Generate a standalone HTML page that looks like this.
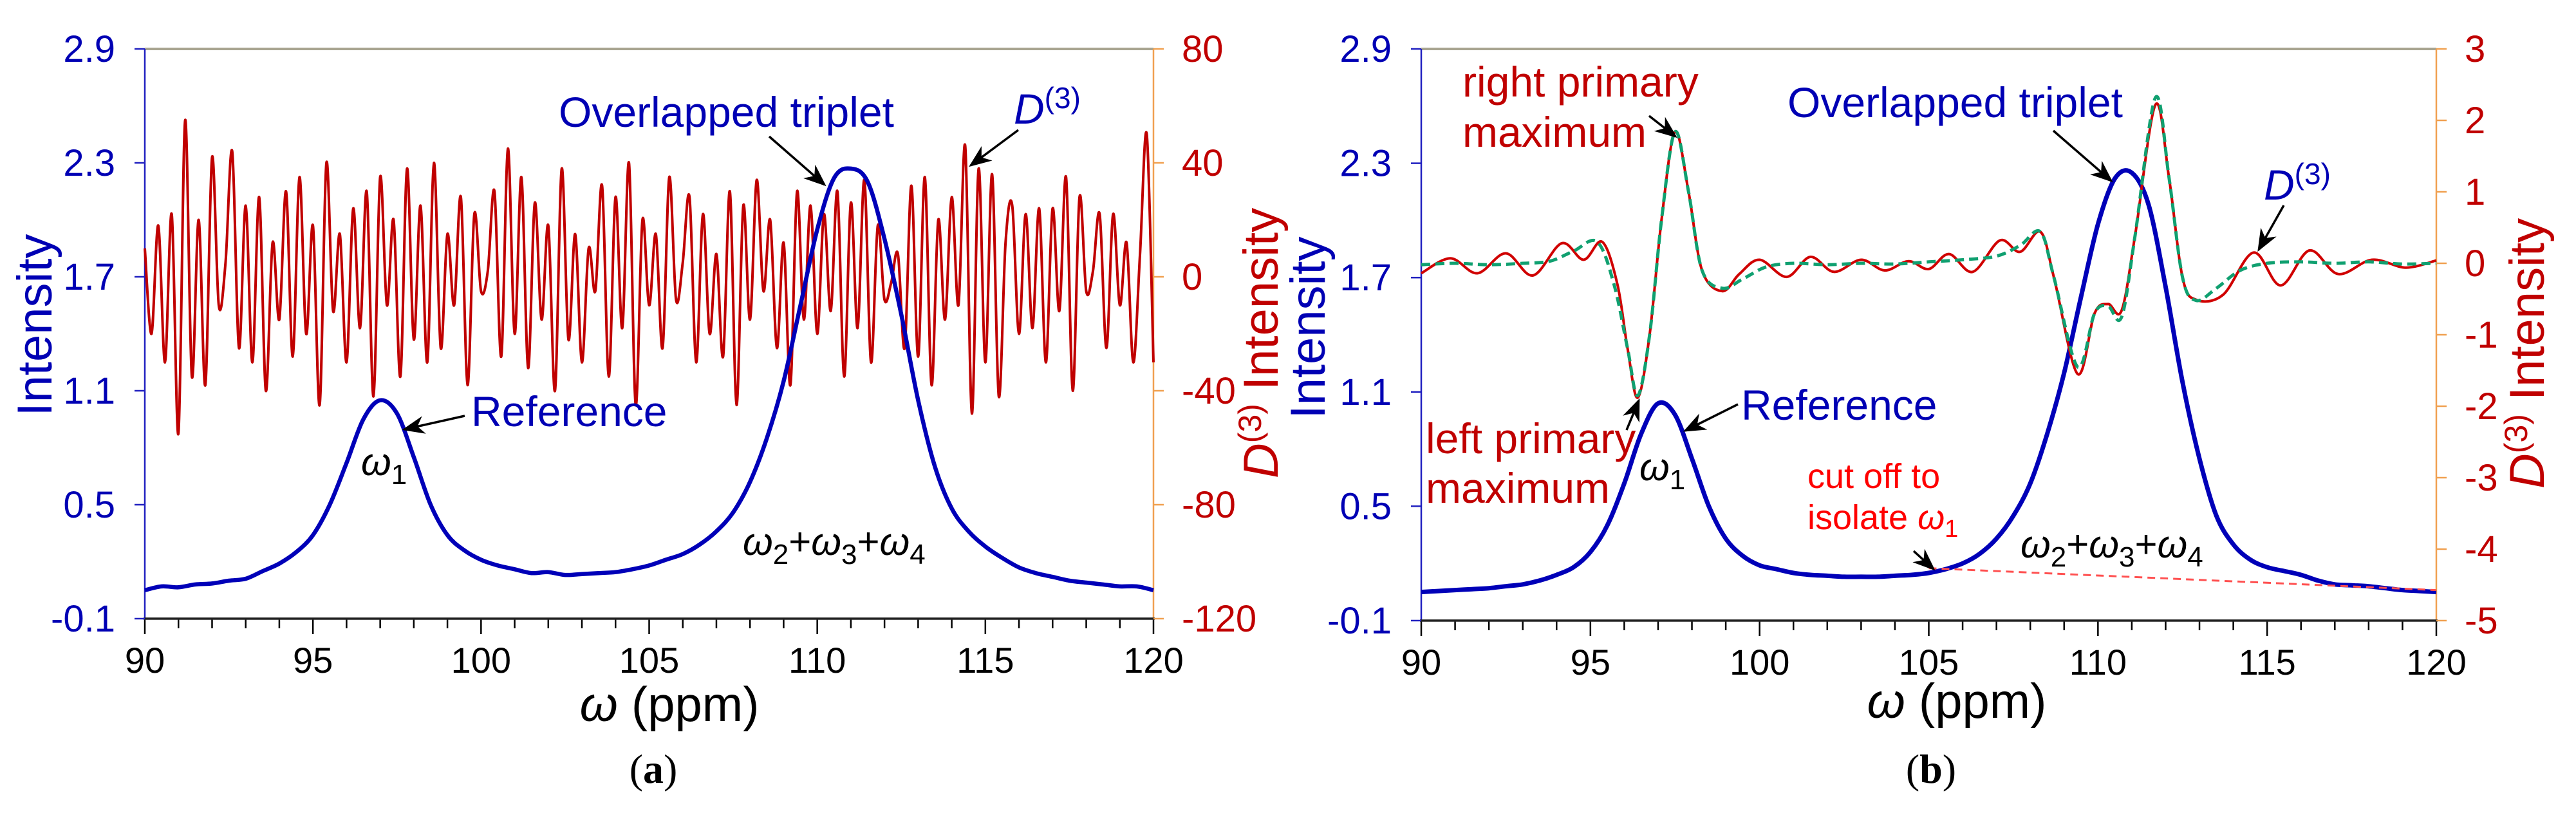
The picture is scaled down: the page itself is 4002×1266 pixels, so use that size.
<!DOCTYPE html>
<html><head><meta charset="utf-8">
<style>
html,body{margin:0;padding:0;background:#fff;}
svg{display:block;font-family:"Liberation Sans",Arial,sans-serif;}
</style></head>
<body>
<svg id="fig" width="4002" height="1266" viewBox="0 0 4002 1266" xmlns="http://www.w3.org/2000/svg">
<defs>
<marker id="ah" markerWidth="10" markerHeight="8" refX="9" refY="4" orient="auto" markerUnits="strokeWidth">
<path d="M0,0 L10,4 L0,8 L3,4 Z" fill="#000"/></marker>
</defs>
<g id="pa"></g>
<g id="pb"></g>
</svg>
<script>
// ---------- DATA ----------
const xTicks = [90,95,100,105,110,115,120];
const leftTicks = [2.9,2.3,1.7,1.1,0.5,-0.1];
const rightTicksA = [80,40,0,-40,-80,-120];
const rightTicksB = [3,2,1,0,-1,-2,-3,-4,-5];

// panel a blue intensity, sampled 90..120 every 0.5 ppm
const blueAStart = 90, blueAStep = 0.5;
const blueA = [0.05,0.07,0.065,0.08,0.085,0.10,0.11,0.15,0.19,0.25,0.34,0.50,0.72,0.95,1.05,0.98,0.75,0.50,0.34,0.26,0.21,0.18,0.16,0.14,0.145,0.13,0.135,0.14,0.145,0.16,0.18,0.21,0.24,0.29,0.36,0.46,0.62,0.85,1.15,1.55,1.95,2.22,2.27,2.2,1.9,1.5,1.05,0.7,0.48,0.36,0.28,0.22,0.17,0.14,0.12,0.10,0.09,0.08,0.07,0.07,0.05];

// panel a red D(3), sampled every 0.2 ppm
const redAStart = 90, redAStep = 0.2;
const redA = [10,-20,18,-30,22,-55,55,-35,20,-38,42,-10,5,44,-25,25,-30,28,-40,12,-15,30,-28,35,-20,18,-45,40,-12,15,-30,24,-18,30,-42,35,-10,20,-35,38,-22,25,-30,40,-25,15,-10,28,-38,22,-5,2,30,-28,45,-20,35,-32,26,-15,18,-40,38,-22,15,-30,10,-5,32,-35,28,-18,40,-45,20,-10,15,-25,35,-8,5,28,-30,22,-20,8,-28,30,-45,25,-15,34,-5,20,-25,12,-38,30,-15,25,-20,22,-12,30,-35,26,-18,34,-30,18,-8,-2,8,-25,32,-28,35,-38,20,-15,28,-10,46,-48,38,-30,36,-42,12,25,-20,22,-18,24,-30,24,-12,35,-40,28,-5,2,22,-25,22,-10,12,-30,8,50,-30];

// panel b blue intensity every 0.5 ppm
const blueBStart = 90, blueBStep = 0.5;
const blueB = [0.05,0.055,0.06,0.065,0.07,0.08,0.09,0.11,0.14,0.18,0.26,0.40,0.62,0.88,1.04,0.98,0.75,0.50,0.33,0.24,0.19,0.17,0.15,0.14,0.135,0.13,0.13,0.13,0.135,0.14,0.15,0.17,0.2,0.25,0.33,0.45,0.62,0.88,1.2,1.6,1.98,2.22,2.25,2.08,1.65,1.15,0.75,0.45,0.30,0.22,0.18,0.16,0.14,0.11,0.09,0.085,0.08,0.07,0.06,0.055,0.05];

// panel b red D(3)
const redBX = [90,90.86,91.66,92.5,93.3,94.15,94.8,95.35,95.8,96.1,96.4,96.75,97.1,97.5,97.9,98.3,98.9,99.4,100.0,100.8,101.5,102.2,103.0,103.7,104.4,105.0,105.6,106.3,107.1,107.7,108.3,108.7,109.4,109.9,110.3,110.7,111.1,111.7,112.1,112.5,112.9,113.7,114.6,115.4,116.25,117.1,118.1,119.1,120];
const redBY = [-0.14,0.07,-0.14,0.14,-0.17,0.28,0.05,0.30,-0.3,-1.2,-1.88,-1.0,0.6,1.84,1.0,-0.1,-0.39,-0.15,0.05,-0.19,0.09,-0.12,0.05,-0.10,0.03,-0.08,0.13,-0.12,0.32,0.16,0.44,-0.2,-1.55,-0.7,-0.57,-0.66,0.4,2.22,1.2,-0.2,-0.51,-0.44,0.15,-0.31,0.18,-0.15,0.05,-0.06,0.04];

// panel b green fit
const greenBX = [90,91,92,93,93.8,94.5,95.2,95.7,96.1,96.4,96.75,97.1,97.5,97.9,98.3,98.9,99.5,100.2,101,102,103,104,105,106,107,107.7,108.3,108.7,109.4,109.9,110.3,110.7,111.1,111.7,112.1,112.5,112.9,113.5,114.2,115,116,117,118,119,120];
const greenBY = [-0.02,0.0,-0.02,0.0,0.03,0.17,0.30,-0.3,-1.2,-1.85,-1.0,0.6,1.84,1.0,-0.1,-0.35,-0.22,-0.05,0.0,-0.02,0.0,-0.01,0.02,0.05,0.1,0.25,0.44,-0.2,-1.45,-0.7,-0.6,-0.75,0.4,2.32,1.2,-0.2,-0.52,-0.35,-0.1,0.0,0.02,0.0,0.02,-0.01,0.0];

// cut-off line (ppm, intensity)
const cutX = [105.0,120.0];
const cutY = [0.175,0.06];

// ---------- HELPERS ----------
const NS="http://www.w3.org/2000/svg";
function mk(parent,tag,attrs){const e=document.createElementNS(NS,tag);for(const k in attrs)e.setAttribute(k,attrs[k]);parent.appendChild(e);return e;}
function smoothPath(px,py){
  let d="M"+px[0].toFixed(1)+","+py[0].toFixed(1);
  for(let i=0;i<px.length-1;i++){
    const x0=px[Math.max(0,i-1)],y0=py[Math.max(0,i-1)],x1=px[i],y1=py[i],x2=px[i+1],y2=py[i+1],x3=px[Math.min(px.length-1,i+2)],y3=py[Math.min(px.length-1,i+2)];
    const c1x=x1+(x2-x0)/6,c1y=y1+(y2-y0)/6,c2x=x2-(x3-x1)/6,c2y=y2-(y3-y1)/6;
    d+=" C"+c1x.toFixed(1)+","+c1y.toFixed(1)+" "+c2x.toFixed(1)+","+c2y.toFixed(1)+" "+x2.toFixed(1)+","+y2.toFixed(1);
  }
  return d;
}
const BLUE="#0000b4", RED="#c00000", ORANGE="#f0a050";

function panel(g,cfg){
  const L=cfg.L,R=cfg.R,T=cfg.T,B=cfg.B;
  const X=v=>L+(v-90)/30*(R-L);
  const YL=v=>B-(v+0.1)/3.0*(B-T);
  const YR=v=>B-(v-cfg.rMin)/(cfg.rMax-cfg.rMin)*(B-T);
  // frame
  let e;
  e=mk(g,"line",{x1:L,y1:T,x2:R,y2:T,stroke:"#a8a490","stroke-width":4});
  
  
  e=mk(g,"line",{x1:L,y1:T,x2:L,y2:B,stroke:"#2020c0","stroke-width":2.5});
  
  
  e=mk(g,"line",{x1:R,y1:T,x2:R,y2:B,stroke:ORANGE,"stroke-width":2.5});
  
  
  // x minor/major ticks
  for(let v=90;v<=120;v++){
    const major=(v%5===0);
    e=mk(g,"line",{x1:X(v),y1:B,x2:X(v),y2:B+(major?24:15),stroke:"#000","stroke-width":2.5});
    
    
  }
  e=mk(g,"line",{x1:L-2,y1:B,x2:R+2,y2:B,stroke:"#222","stroke-width":3.5});
  
  
  xTicks.forEach(v=>{
    const t=mk(g,"text",{x:X(v),y:B+cfg.xlabOff,"font-size":56,"text-anchor":"middle",fill:"#000"});
    t.textContent=v;
    
    
  });
  leftTicks.forEach(v=>{
    const y=YL(v);
    const l=mk(g,"line",{x1:L-16,y1:y,x2:L,y2:y,stroke:"#2020c0","stroke-width":2.5});
    
    
    const t=mk(g,"text",{x:L-46,y:y+20,"font-size":58,"text-anchor":"end",fill:BLUE});
    t.textContent=v.toFixed(1);
    
    
  });
  cfg.rTicks.forEach(v=>{
    const y=YR(v);
    const l=mk(g,"line",{x1:R,y1:y,x2:R+16,y2:y,stroke:ORANGE,"stroke-width":2.5});
    
    
    const t=mk(g,"text",{x:R+44,y:y+20,"font-size":58,"text-anchor":"start",fill:RED});
    t.textContent=v;
    
    
  });
  // axis titles
  let t=mk(g,"text",{x:cfg.ltX,y:cfg.ltY,"font-size":76,"text-anchor":"middle",fill:BLUE,transform:"rotate(-90 "+cfg.ltX+" "+cfg.ltY+")"});
  t.textContent="Intensity";
  
  
  t=mk(g,"text",{x:cfg.rtX,y:cfg.rtY,"font-size":76,"text-anchor":"middle",fill:RED,transform:"rotate(-90 "+cfg.rtX+" "+cfg.rtY+")"});
  t.innerHTML='<tspan font-style="italic">D</tspan><tspan font-size="50" dy="-26">(3)</tspan><tspan dy="26"> Intensity</tspan>';
  
  
  t=mk(g,"text",{x:cfg.xtX,y:cfg.xtY,"font-size":76,"text-anchor":"middle",fill:"#000"});
  t.innerHTML='<tspan font-style="italic">ω</tspan> (ppm)';
  
  
  t=mk(g,"text",{x:cfg.capX,y:1216,"font-size":64,"text-anchor":"middle",fill:"#000","font-family":"Liberation Serif, serif"});
  t.innerHTML='(<tspan font-weight="bold">'+cfg.cap+'</tspan>)';
  
  
  return {X,YL,YR};
}
function txt(g,name,x,y,size,color,html,anchor){
  const t=mk(g,"text",{x:x,y:y,"font-size":size,fill:color,"text-anchor":anchor||"start"});
  t.innerHTML=html;
  
  
  return t;
}
function arrow(g,name,x1,y1,x2,y2){
  const l=mk(g,"line",{x1:x1,y1:y1,x2:x2,y2:y2,stroke:"#000","stroke-width":3.5,"marker-end":"url(#ah)"});
  
  
}
const W123='<tspan font-style="italic">ω</tspan><tspan font-size="44" dy="14">2</tspan><tspan dy="-14">+</tspan><tspan font-style="italic">ω</tspan><tspan font-size="44" dy="14">3</tspan><tspan dy="-14">+</tspan><tspan font-style="italic">ω</tspan><tspan font-size="44" dy="14">4</tspan>';
const W1='<tspan font-style="italic">ω</tspan><tspan font-size="44" dy="14">1</tspan>';
const D3='<tspan font-style="italic">D</tspan><tspan font-size="46" dy="-24">(3)</tspan>';

// ---------- PANEL A ----------
const ga=document.getElementById("pa");
const A=panel(ga,{L:225,R:1792,T:76,B:961,rMin:-120,rMax:80,rTicks:rightTicksA,ltX:80,ltY:505,rtX:1985,rtY:533,xtX:1040,xtY:1120,capX:1015,cap:"a",xlabOff:84});
{
  const px=redA.map((v,i)=>A.X(redAStart+i*redAStep)), py=redA.map(v=>A.YR(v));
  const p=mk(ga,"path",{d:smoothPath(px,py),fill:"none",stroke:RED,"stroke-width":4,"stroke-linejoin":"round"});
  
  
  const bx=blueA.map((v,i)=>A.X(blueAStart+i*blueAStep)), by=blueA.map(v=>A.YL(v));
  const q=mk(ga,"path",{d:smoothPath(bx,by),fill:"none",stroke:"#0000b8","stroke-width":6.5,"stroke-linejoin":"round"});
  
  
}
txt(ga,"overlapped-triplet-label",868,197,66,BLUE,"Overlapped triplet");
arrow(ga,"triplet-arrow",1195,212,1281,287);
txt(ga,"d3-label",1575,192,66,BLUE,D3);
arrow(ga,"d3-arrow",1582,202,1508,257);
txt(ga,"reference-label",732,662,66,BLUE,"Reference");
arrow(ga,"reference-arrow",722,646,628,667);
txt(ga,"omega1-label",561,738,60,"#000",W1);
txt(ga,"omega234-label",1154,862,60,"#000",W123);

// ---------- PANEL B ----------
const gb=document.getElementById("pb");
const Bp=panel(gb,{L:2208,R:3785,T:76,B:964,rMin:-5,rMax:3,rTicks:rightTicksB,ltX:2058,ltY:509,rtX:3952,rtY:549,xtX:3040,xtY:1115,capX:3000,cap:"b",xlabOff:84});
{
  const bx=blueB.map((v,i)=>Bp.X(blueBStart+i*blueBStep)), by=blueB.map(v=>Bp.YL(v));
  const q=mk(gb,"path",{d:smoothPath(bx,by),fill:"none",stroke:"#0000b8","stroke-width":7,"stroke-linejoin":"round"});
  
  
  const c=mk(gb,"line",{x1:Bp.X(cutX[0]),y1:Bp.YL(cutY[0]),x2:Bp.X(cutX[1]),y2:Bp.YL(cutY[1]),stroke:"#ff5050","stroke-width":3,"stroke-dasharray":"12,8"});
  
  
  const rx=redBX.map(v=>Bp.X(v)), ry=redBY.map(v=>Bp.YR(v));
  const p=mk(gb,"path",{d:smoothPath(rx,ry),fill:"none",stroke:"#d00000","stroke-width":4});
  
  
  const gx=greenBX.map(v=>Bp.X(v)), gy=greenBY.map(v=>Bp.YR(v));
  const s=mk(gb,"path",{d:smoothPath(gx,gy),fill:"none",stroke:"#10a070","stroke-width":5,"stroke-dasharray":"14,8"});
  
  
}
txt(gb,"right-primary-label",2272,150,66,RED,"right primary");
txt(gb,"right-primary-label-2",2272,228,66,RED,"maximum");
arrow(gb,"right-primary-arrow",2562,180,2603,212);
txt(gb,"overlapped-triplet-label-b",2777,182,66,BLUE,"Overlapped triplet");
arrow(gb,"triplet-arrow-b",3190,203,3280,281);
txt(gb,"d3-label-b",3517,310,66,BLUE,D3);
arrow(gb,"d3-arrow-b",3548,319,3509,388);
txt(gb,"reference-label-b",2705,652,66,BLUE,"Reference");
arrow(gb,"reference-arrow-b",2700,628,2618,669);
txt(gb,"left-primary-label",2215,704,66,RED,"left primary");
txt(gb,"left-primary-label-2",2215,781,66,RED,"maximum");
arrow(gb,"left-primary-arrow",2527,668,2546,622);
txt(gb,"omega1-label-b",2547,746,60,"#000",W1);
txt(gb,"cutoff-label",2808,758,54,"#ff0000","cut off to");
txt(gb,"cutoff-label-2",2808,822,54,"#ff0000",'isolate <tspan font-style="italic">ω</tspan><tspan font-size="38" dy="12">1</tspan>');
arrow(gb,"cutoff-arrow",2973,856,3004,884);
txt(gb,"omega234-label-b",3139,866,60,"#000",W123);
</script>
</body></html>
